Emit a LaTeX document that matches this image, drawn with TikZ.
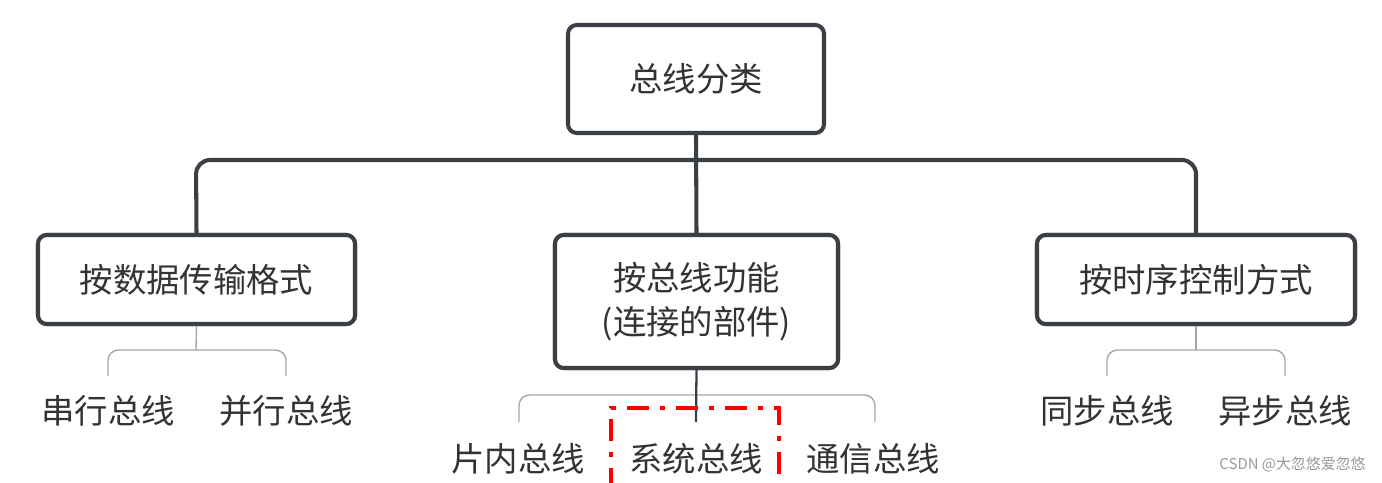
\documentclass[tikz,border=0pt]{standalone}
\usepackage{fontspec}
\setmainfont{Noto Sans CJK SC}
\newfontfamily\cjk{Noto Sans CJK SC}
\begin{document}
\begin{tikzpicture}[x=0.02cm,y=-0.02cm,
  box/.style={draw=boxc,line width=2.3pt,rounded corners=5pt,fill=white,inner sep=0pt,font=\cjk\fontsize{19}{25}\selectfont,text=textc},
  conn/.style={draw=boxc,line width=2.3pt,rounded corners=8pt},
  br/.style={draw=gray!70,line width=0.8pt,rounded corners=6pt},
  leaf/.style={font=\cjk\fontsize{19}{25}\selectfont,text=textc,inner sep=0pt}]
\definecolor{boxc}{HTML}{3A3F45}
\definecolor{textc}{HTML}{333333}
\useasboundingbox (0,0) rectangle (1382,483);
\node[box,minimum width=256*0.02cm,minimum height=108*0.02cm] (top) at (696,79) {总线分类};
\node[box,minimum width=317*0.02cm,minimum height=89*0.02cm] (l) at (196.5,279.5) {按数据传输格式};
\node[box,minimum width=283*0.02cm,minimum height=133*0.02cm,align=center] (m) at (696.5,301.5) {按总线功能\\(连接的部件)};
\node[box,minimum width=318*0.02cm,minimum height=89*0.02cm] (r) at (1196,279.5) {按时序控制方式};
\coordinate (hl) at (196,160);
\coordinate (hr) at (1196,160);
\begin{scope}[on background layer/.style={}]
\draw[conn] (l.north) -- (hl) -- (hr) -- (r.north);
\draw[conn] (top.south) -- (m.north);
\end{scope}
% re-draw boxes on top
\node[box,minimum width=317*0.02cm,minimum height=89*0.02cm] at (196.5,279.5) {按数据传输格式};
\node[box,minimum width=318*0.02cm,minimum height=89*0.02cm] at (1196,279.5) {按时序控制方式};
\node[box,minimum width=283*0.02cm,minimum height=133*0.02cm,align=center] at (696.5,301.5) {按总线功能\\(连接的部件)};
% leaves
\node[leaf] (a1) at (108,411) {串行总线};
\node[leaf] (a2) at (286,411) {并行总线};
\node[leaf] (b1) at (518,459) {片内总线};
\node[leaf] (b2) at (696,459) {系统总线};
\node[leaf] (b3) at (873,459) {通信总线};
\node[leaf] (c1) at (1107,411) {同步总线};
\node[leaf] (c2) at (1285,411) {异步总线};
\draw[br] (l.south) -- (196,350);
\draw[br] (108,376) -- (108,350) -- (286,350) -- (286,376);
\draw[br] (r.south) -- (1196,350);
\draw[br] (1107,376) -- (1107,350) -- (1285,350) -- (1285,376);
\draw[br] (519,422) -- (519,395) -- (875,395) -- (875,422);
\draw[boxc,line width=1.3pt] (m.south) -- (696,422);
\draw[red,line width=2.3pt,dash pattern=on 0.44cm off 0.22cm on 0.1cm off 0.22cm] (611,490) -- (611,408) -- (779,408) -- (779,490);
\node[font=\cjk\fontsize{8.5}{10}\selectfont,text=gray!80,anchor=east,inner sep=0pt] (wm) at (1366,465) {CSDN @大忽悠爱忽悠};
\end{tikzpicture}
\end{document}
